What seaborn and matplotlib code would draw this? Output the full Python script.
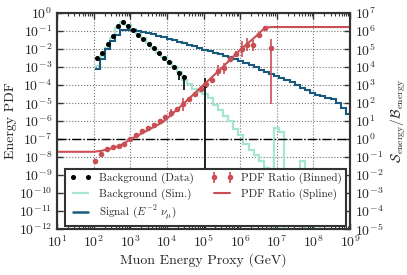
import numpy as np
import seaborn as sns
import matplotlib.pyplot as plt
from matplotlib.lines import Line2D
from matplotlib.ticker import LogLocator, NullLocator

# histogram bins (log10 GeV): 50 bins for the PDFs, 50 bins for the ratio
pdf_log_edges = np.linspace(2.03, 9.03, 51)
ratio_log_edges = np.linspace(1.0, 9.0, 51)

# background data, first 22 bins (nan = empty)
bkg_data = [3.0e-3, 6.0e-3, 2.0e-2, 5.6e-2, 0.18, 0.30, 0.20, 0.12, 6.3e-2, 3.7e-2,
            2.0e-2, 1.1e-2, 6.3e-3, 3.2e-3, 2.0e-3, 1.0e-3, 4.5e-4, 2.7e-4,
            np.nan, np.nan, np.nan, 1.0e-4]
bkg_data_lo = [2.7e-3, 5.5e-3, 1.9e-2, 5.4e-2, 0.175, 0.29, 0.195, 0.117, 6.1e-2, 3.6e-2,
               1.9e-2, 1.05e-2, 5.9e-3, 2.9e-3, 1.7e-3, 8.0e-4, 1.8e-4, 5.1e-5,
               np.nan, np.nan, np.nan, 0.0]
bkg_data_hi = [3.3e-3, 6.5e-3, 2.1e-2, 5.8e-2, 0.185, 0.31, 0.205, 0.123, 6.5e-2, 3.8e-2,
               2.1e-2, 1.15e-2, 6.7e-3, 3.5e-3, 2.3e-3, 1.2e-3, 6.3e-4, 3.4e-4,
               np.nan, np.nan, np.nan, 2.5e-4]

# background simulation (0 = empty bin)
bkg_sim = [1.17e-3, 4.2e-3, 1.17e-2, 4.2e-2, 0.145, 0.31, 0.22, 0.13, 7.1e-2, 4.2e-2,
           2.2e-2, 1.17e-2, 6.3e-3, 3.4e-3, 1.8e-3, 1.0e-3, 5.0e-4, 1.8e-4, 1.2e-4, 6.3e-5,
           4.2e-5, 3.2e-5, 2.0e-5, 7.9e-6, 4.0e-6, 2.0e-6, 1.0e-6, 3.5e-7, 1.6e-7, 5.0e-8,
           2.5e-8, 1.3e-8, 6.3e-9, 2.5e-9, 0, 4.0e-7, 2.5e-7, 0, 0, 0,
           6.3e-9, 0, 0, 1.6e-12, 0, 0, 0, 0, 0, 0]

# signal E^-2 (log10 of the PDF)
signal_log = [-3.1, -2.56, -2.0, -1.56, -1.2, -0.96, -0.93, -0.95, -1.02, -1.07,
              -1.13, -1.18, -1.25, -1.33, -1.42, -1.5, -1.59, -1.68, -1.77, -1.85,
              -1.94, -2.03, -2.12, -2.21, -2.29, -2.38, -2.47, -2.56, -2.66, -2.78,
              -2.9, -3.02, -3.14, -3.26, -3.38, -3.48, -3.6, -3.72, -3.86, -4.0,
              -4.15, -4.3, -4.45, -4.55, -4.62, -4.72, -4.75, -5.0, -5.3, -5.6]

# binned PDF ratio, ratio bins 6..36 (log10)
ratio_bins = list(range(6, 37))
ratio_log = [-1.24, -0.84, -0.57, -0.44, -0.38, -0.26, -0.02, 0.22, 0.45, 0.62,
             0.8, 1.0, 1.25, 1.45, 1.65, 1.93, 2.2, 2.5, 2.8, 3.05,
             3.3, 3.8, 3.93, 4.45, 4.75, 5.02, 5.25, 5.2, 5.8, 6.16, 5.07]
ratio_err_lo = [0.08, 0.06, 0.05, 0.05, 0.05, 0.05, 0.05, 0.05, 0.06, 0.06,
                0.07, 0.08, 0.1, 0.25, 0.12, 0.4, 0.12, 0.12, 0.15, 0.15,
                0.15, 0.3, 0.3, 0.15, 0.15, 0.45, 0.35, 0.3, 0.15, 0.1, 3.1]
ratio_err_hi = [0.08, 0.06, 0.05, 0.05, 0.05, 0.05, 0.05, 0.05, 0.06, 0.06,
                0.07, 0.08, 0.1, 0.2, 0.12, 0.35, 0.12, 0.12, 0.15, 0.15,
                0.15, 0.3, 0.3, 0.15, 0.15, 0.45, 0.35, 0.3, 0.15, 0.1, 0.5]

# spline of the ratio (log10 E, log10 ratio)
spline_logx = [1.0, 2.0, 2.2, 2.4, 2.6, 2.8, 3.0, 3.4, 3.9, 4.45, 5.0, 5.5, 6.0,
               6.4, 6.64, 6.75, 6.85, 9.0]
spline_log = [-0.71, -0.71, -0.66, -0.57, -0.45, -0.28, -0.02, 0.4, 0.95, 1.95, 3.0,
              3.95, 4.95, 5.65, 6.11, 6.2, 6.22, 6.22]

c_sim = "#a5e6d0"
c_sig = "#1b5a7f"
c_red = "#c94f55"
c_spine = "#333333"

sns.set_style("ticks")
plt.rcParams.update({
    "font.family": "serif",
    "font.serif": ["cmr10"],
    "mathtext.fontset": "cm",
    "axes.unicode_minus": False,
    "axes.formatter.use_mathtext": True,
    "font.size": 10,
})

pdf_edges = 10 ** pdf_log_edges
pdf_centers = 10 ** ((pdf_log_edges[:-1] + pdf_log_edges[1:]) / 2)
ratio_centers_all = 10 ** ((ratio_log_edges[:-1] + ratio_log_edges[1:]) / 2)

fig = plt.figure(figsize=(4.07, 2.75), dpi=100)
ax = fig.add_axes([57 / 407, 1 - 229 / 275, 293 / 407, 216 / 275])
ax.set_xscale("log")
ax.set_yscale("log")

ax.stairs(bkg_sim, pdf_edges, baseline=None, color=c_sim, lw=1.6)
ax.stairs(10 ** np.array(signal_log), pdf_edges, baseline=None, color=c_sig, lw=1.5)

n = len(bkg_data)
yd = np.array(bkg_data)
ax.errorbar(pdf_centers[:n], yd,
            yerr=[yd - np.array(bkg_data_lo), np.array(bkg_data_hi) - yd],
            fmt="o", color="k", ms=2.6, elinewidth=1.2, capsize=0, zorder=5)

ax.set_xlim(1e1, 1e9)
ax.set_ylim(1e-12, 1e0)
ax.xaxis.set_major_locator(LogLocator(base=10, numticks=20))
ax.xaxis.set_minor_locator(LogLocator(base=10, subs=np.arange(2, 10), numticks=20))
ax.yaxis.set_major_locator(LogLocator(base=10, numticks=20))
ax.yaxis.set_minor_locator(NullLocator())
ax.grid(True, which="major", ls=":", color="#777777", lw=0.8)
ax.tick_params(which="both", direction="in", top=True, right=False, color=c_spine)
ax.tick_params(which="major", length=4, width=1)
ax.tick_params(which="minor", length=2, width=0.8)
ax.set_xlabel("Muon Energy Proxy (GeV)", labelpad=2)
ax.set_ylabel("Energy PDF", labelpad=1)

ax2 = ax.twinx()
ax2.set_yscale("log")
ax2.set_ylim(1e-5, 1e7)
ax2.yaxis.set_major_locator(LogLocator(base=10, numticks=20))
ax2.yaxis.set_minor_locator(NullLocator())
ax2.tick_params(which="both", direction="in", color=c_spine, length=4, width=1)
ax2.axhline(1, color="k", ls="-.", lw=1)

sns.lineplot(x=10 ** np.array(spline_logx), y=10 ** np.array(spline_log), ax=ax2,
             color=c_red, lw=1.5, sort=False, estimator=None)
rv = 10 ** np.array(ratio_log)
r_lo = rv - 10 ** (np.array(ratio_log) - np.array(ratio_err_lo))
r_hi = 10 ** (np.array(ratio_log) + np.array(ratio_err_hi)) - rv
ebr = ax2.errorbar(ratio_centers_all[ratio_bins], rv, yerr=[r_lo, r_hi], fmt="o",
                   color=c_red, ms=3, elinewidth=1.2, capsize=0, zorder=5)
ax2.set_ylabel(r"$\mathcal{S}_{\rm energy}/\mathcal{B}_{\rm energy}$")
ax2.set_xlim(1e1, 1e9)

for a in (ax, ax2):
    for s in a.spines.values():
        s.set_color(c_spine)
        s.set_linewidth(1.5)

handles = [
    Line2D([], [], marker="o", ls="none", color="k", ms=2.6),
    Line2D([], [], color=c_sim, lw=1.6),
    Line2D([], [], color=c_sig, lw=1.8),
    ebr,
    Line2D([], [], color=c_red, lw=1.5),
]
labels = ["Background (Data)", "Background (Sim.)", r"Signal ($E^{-2}$ $\nu_\mu$)",
          "PDF Ratio (Binned)", "PDF Ratio (Spline)"]
leg = ax2.legend(handles, labels, loc="lower left", bbox_to_anchor=(0.027, 0.012, 0.96, 0.2),
                 mode="expand", ncol=2, numpoints=2, fontsize=8, frameon=True,
                 fancybox=False, framealpha=1, edgecolor=c_spine, borderaxespad=0,
                 handlelength=2.0, handletextpad=0.7, columnspacing=1.0,
                 labelspacing=0.35, borderpad=0.4)
leg.get_frame().set_linewidth(1.5)
leg.set_zorder(20)

fig.savefig("out.png", dpi=100)
